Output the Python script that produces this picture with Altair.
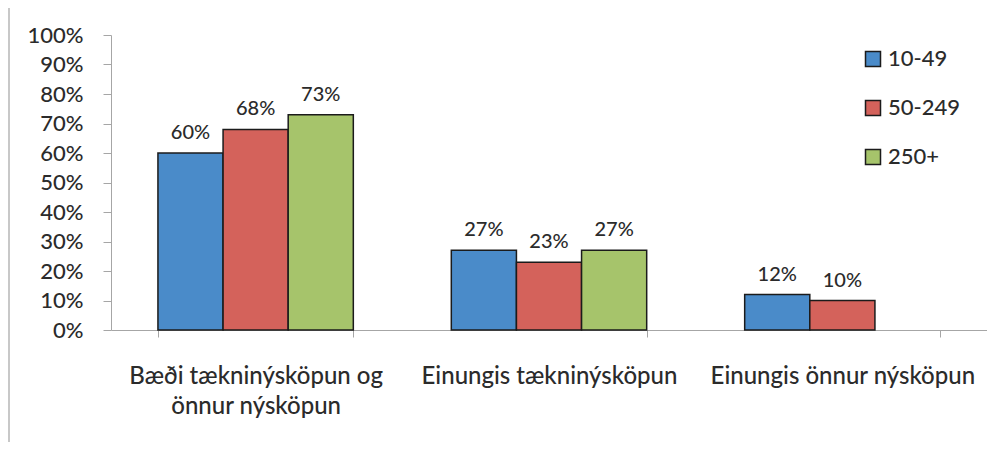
import json
import altair as alt
import pandas as pd

# ---- data ----
categories = [
    "Bæði tækninýsköpun og önnur nýsköpun",
    "Einungis tækninýsköpun",
    "Einungis önnur nýsköpun",
]
first_label_lines = ["Bæði tækninýsköpun og", "önnur nýsköpun"]
series = ["10-49", "50-249", "250+"]
values_10_49 = [60, 27, 12]
values_50_249 = [68, 23, 10]
values_250_plus = [73, 27, None]
colors = ["#4a8bc9", "#d4625b", "#a6c46b"]
y_ticks = [0, 10, 20, 30, 40, 50, 60, 70, 80, 90, 100]

rows = []
for s, vals in zip(series, [values_10_49, values_50_249, values_250_plus]):
    for c, v in zip(categories, vals):
        if v is not None:
            rows.append({"category": c, "series": s, "value": v, "label": f"{v}%"})
df = pd.DataFrame(rows)

FONT = "Lato"
WEIGHT = 500
TXT = "#2b2b2b"
AXC = "#a6a6a6"

label_expr = (
    f"datum.value == {json.dumps(categories[0], ensure_ascii=False)} ? "
    f"{json.dumps(first_label_lines, ensure_ascii=False)} : datum.value"
)

x_enc = alt.X(
    "category:N",
    sort=categories,
    scale=alt.Scale(paddingInner=0.334, paddingOuter=0.16),
    axis=alt.Axis(
        title=None,
        labelAngle=0,
        tickBand="extent",
        labelExpr=label_expr,
        labelFont=FONT,
        labelFontWeight=WEIGHT,
        labelFontSize=24,
        labelColor=TXT,
        labelLimit=500,
        labelOverlap=False,
        labelPadding=27,
        labelLineHeight=30,
        tickSize=7,
        tickColor=AXC,
        domainColor=AXC,
    ),
)
xo_enc = alt.XOffset("series:N", sort=series, scale=alt.Scale(domain=series, paddingInner=0, paddingOuter=0))
y_enc = alt.Y(
    "value:Q",
    scale=alt.Scale(domain=[0, 100], nice=False),
    axis=alt.Axis(
        title=None,
        values=y_ticks,
        labelExpr="datum.value + '%'",
        labelFont=FONT,
        labelFontWeight=WEIGHT,
        labelFontSize=22,
        labelColor=TXT,
        labelPadding=20,
        tickSize=8,
        tickColor=AXC,
        domainColor=AXC,
        grid=False,
    ),
)

bars = alt.Chart(df).mark_bar(stroke="#1b1b1b", strokeWidth=1.5).encode(
    x=x_enc,
    xOffset=xo_enc,
    y=y_enc,
    color=alt.Color(
        "series:N",
        sort=series,
        scale=alt.Scale(domain=series, range=colors),
        legend=alt.Legend(
            title=None,
            orient="none",
            legendX=751,
            legendY=13,
            symbolType="square",
            symbolSize=225,
            symbolStrokeColor="#1b1b1b",
            symbolStrokeWidth=1.5,
            symbolOpacity=1,
            labelFont=FONT,
            labelFontWeight=WEIGHT,
            labelFontSize=22,
            labelColor=TXT,
            labelOffset=4,
            rowPadding=27,
            padding=0,
        ),
    ),
)

labels = alt.Chart(df).mark_text(
    dy=-14, baseline="alphabetic", font=FONT, fontWeight=WEIGHT, fontSize=20, color=TXT
).encode(x=x_enc, xOffset=xo_enc, y=y_enc, text="label:N")

border = alt.Chart(df).mark_rule(color="#c8c8c8", strokeWidth=2).encode(
    x=alt.value(-102), y=alt.value(-35), y2=alt.value(415)
)

chart = (
    alt.layer(bars, labels, border)
    .properties(
        width=876,
        height=295,
        autosize=alt.AutoSizeParams(type="none"),
        padding={"left": 103, "top": 27, "right": 0, "bottom": 112},
    )
    .configure_view(stroke=None)
)

chart.save("out.html", embed_options={"renderer": "svg", "actions": False})
